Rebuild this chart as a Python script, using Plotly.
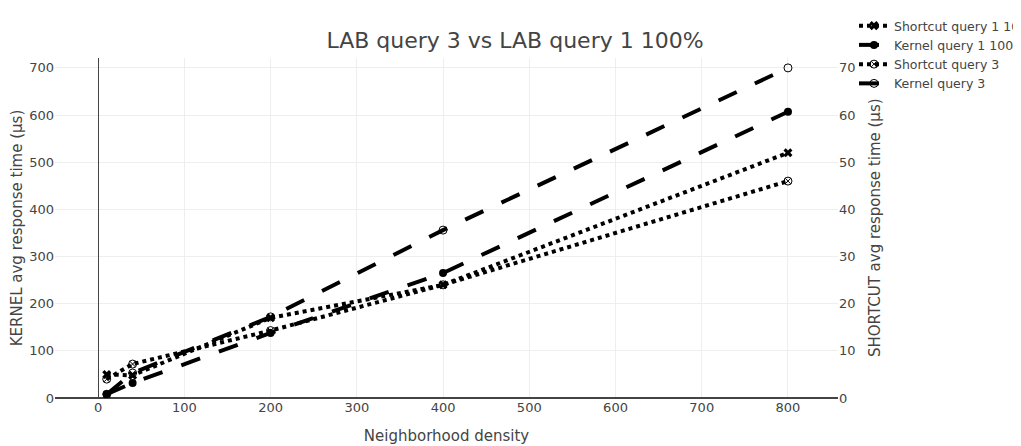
import plotly.graph_objects as go

density = [10, 40, 200, 400, 800]
shortcut_q1 = [5.0, 4.8, 17.0, 24.0, 52.0]
kernel_q1 = [8, 32, 138, 265, 607]
shortcut_q3 = [4.0, 7.2, 14.3, 24.0, 46.0]
kernel_q3 = [8, 53, 172, 356, 700]

FONT = "Verdana, DejaVu Sans, sans-serif"
W, H = 1021, 446

fig = go.Figure()
fig.add_trace(go.Scatter(x=density, y=shortcut_q1, name="Shortcut query 1 100%", yaxis="y2",
                         mode="lines+markers", line=dict(color="black", width=4, dash="dot"),
                         marker=dict(symbol="x", size=8, color="black")))
fig.add_trace(go.Scatter(x=density, y=kernel_q1, name="Kernel query 1 100%",
                         mode="lines+markers", line=dict(color="black", width=4, dash="longdash"),
                         marker=dict(symbol="circle", size=8, color="black")))
fig.add_trace(go.Scatter(x=density, y=shortcut_q3, name="Shortcut query 3", yaxis="y2",
                         mode="lines+markers", line=dict(color="black", width=4, dash="dot"),
                         marker=dict(symbol="circle-x-open", size=8, color="black")))
fig.add_trace(go.Scatter(x=density, y=kernel_q3, name="Kernel query 3",
                         mode="lines+markers", line=dict(color="black", width=4, dash="longdash"),
                         marker=dict(symbol="circle-open", size=8, color="black")))

fig.update_layout(
    width=W, height=H,
    margin=dict(l=47, r=191, t=50, b=56, autoexpand=False),
    paper_bgcolor="white", plot_bgcolor="white",
    font=dict(family=FONT, color="#444", size=13),
    title=dict(text="LAB query 3 vs LAB query 1 100%", x=507 / W, xanchor="center",
               xref="container", yref="container", y=1 - 32 / H, yanchor="middle",
               font=dict(size=22, family=FONT, color="#444")),
    xaxis=dict(title=dict(text="Neighborhood density", font=dict(size=15), standoff=16),
               range=[-50, 858], dtick=100, gridcolor="#eee", zeroline=True,
               zerolinecolor="#444", zerolinewidth=1, showline=False, automargin=False),
    yaxis=dict(title=dict(text="KERNEL avg response time (μs)", font=dict(size=15), standoff=4),
               range=[0, 721], dtick=100, gridcolor="#eee", zeroline=True,
               zerolinecolor="#444", zerolinewidth=2, automargin=False),
    yaxis2=dict(range=[0, 72.1], dtick=10, overlaying="y", side="right", showgrid=False,
                zeroline=False, automargin=False, anchor="x"),
    annotations=[dict(text="SHORTCUT avg response time (μs)", xref="paper", yref="paper",
                      x=1, y=0.5, xanchor="center", yanchor="middle", xshift=37,
                      textangle=-90, showarrow=False, font=dict(size=15, color="#444"))],
    legend=dict(x=846 / W, y=1 - 3 / H, xref="container", yref="container",
                xanchor="left", yanchor="top", font=dict(size=12.5),
                bgcolor="rgba(0,0,0,0)", tracegroupgap=0, itemwidth=30),
    showlegend=True,
)

fig.write_html("out.html")
